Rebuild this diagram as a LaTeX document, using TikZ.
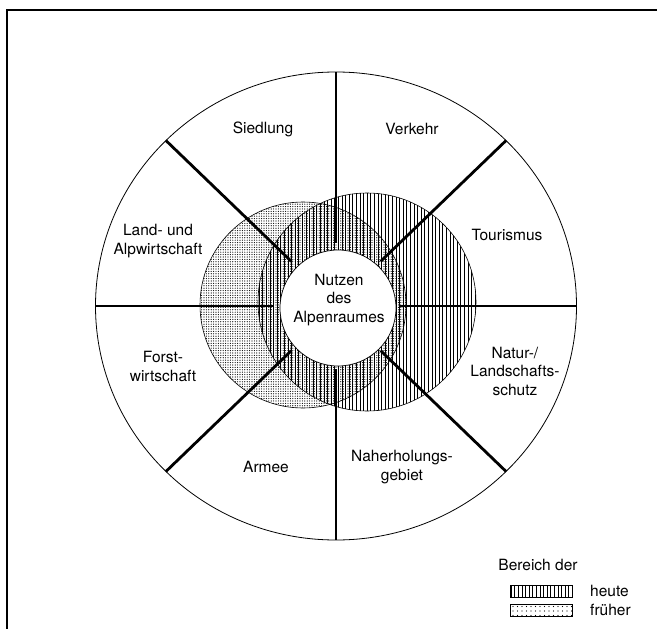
\documentclass[tikz,border=0pt]{standalone}
\usepackage{fontspec}
\setmainfont{TeX Gyre Heros}
\usetikzlibrary{patterns.meta}

\tikzset{
	sector/.style={align=center, inner sep=0pt, font=\fontsize{15.5}{18.5}\selectfont},
	heute/.style={pattern={Lines[angle=90,distance=3.6pt,line width=0.8pt]}},
	frueher/.style={pattern={Dots[radius=0.6pt,distance=2.4pt]}},
	frueherkey/.style={pattern={Dots[radius=0.6pt,distance=4.5pt]}},
	hub/.style={circle, draw, fill=white, line width=0.7pt, minimum size=116pt, inner sep=0pt},
	keybox/.style={draw, line width=0.6pt, minimum width=62pt, minimum height=12pt, inner sep=0pt}
}

\begin{document}
\begin{tikzpicture}[x=1pt,y=-1pt]
	\useasboundingbox (0,0) rectangle (657,629);
	% frame (cut off)
	\draw[line width=1.2pt] (7,629) -- (7,10) -- (657,10);
	% wheel
	\draw[line width=0.8pt] (336,306) ellipse [x radius=240.5, y radius=234];
	\path[frueher, draw, line width=0.6pt] (303,305) circle (103);
	\path[heute, draw, line width=0.6pt] (367,302) circle (109);
	\foreach \a/\lw in {0/1.3pt, 45/2.8pt, 90/2pt, 135/2.8pt, 180/1.3pt, 225/2.8pt, 270/2pt, 315/2.8pt}
		\draw[line width=\lw] ({336+63*cos(\a)},{306+63*sin(\a)}) -- ({336+240.5*cos(\a)},{306+234*sin(\a)});
	\node[hub] (hub) at (338,308) {};
	\node[sector] (nutzen) at (339,300) {Nutzen\\des\\Alpenraumes};
	% sectors
	\node[sector] (siedlung) at (263,129) {Siedlung};
	\node[sector] (verkehr) at (412,129) {Verkehr};
	\node[sector] (tourismus) at (507,235) {Tourismus};
	\node[sector] (natur) at (515,371) {Natur-/\\Landschafts-\\schutz};
	\node[sector] (naherholung) at (402,467) {Naherholungs-\\gebiet};
	\node[sector] (armee) at (266,467) {Armee};
	\node[sector] (forst) at (163,366.5) {Forst-\\wirtschaft};
	\node[sector] (landwirt) at (158,241) {Land- und\\Alpwirtschaft};
	% legend
	\node[sector] (bereich) at (538,565) {Bereich der};
	\node[keybox, heute] (keyheute) at (541.7,591) {};
	\node[keybox, frueherkey] (keyfrueher) at (541.7,610) {};
	\node[sector, anchor=west] (lblheute) at (590,591) {heute};
	\node[sector, anchor=west] (lblfrueher) at (590,610) {früher};
\end{tikzpicture}
\end{document}
